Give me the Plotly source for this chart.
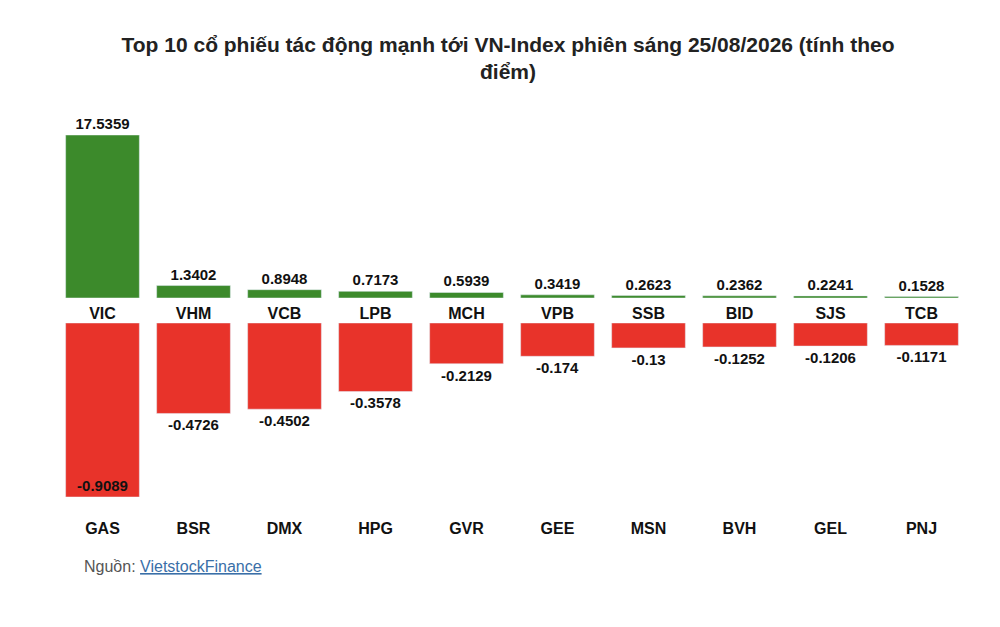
import plotly.graph_objects as go
from plotly.subplots import make_subplots

# top row: gainers
up_names = ["VIC", "VHM", "VCB", "LPB", "MCH", "VPB", "SSB", "BID", "SJS", "TCB"]
up_vals = [17.5359, 1.3402, 0.8948, 0.7173, 0.5939, 0.3419, 0.2623, 0.2362, 0.2241, 0.1528]

# bottom row: losers
down_names = ["GAS", "BSR", "DMX", "HPG", "GVR", "GEE", "MSN", "BVH", "GEL", "PNJ"]
down_vals = [-0.9089, -0.4726, -0.4502, -0.3578, -0.2129, -0.174, -0.13, -0.1252, -0.1206, -0.1171]

pos = list(range(len(up_names)))
lbl_font = dict(family="Liberation Sans, Arial", size=15, color="#111")

fig = make_subplots(rows=2, cols=1, vertical_spacing=0.0)

fig.add_trace(go.Bar(
    x=pos, y=up_vals, marker_color="#3c8a2b",
    text=[f"<b>{v}</b>" for v in up_vals], textposition="outside",
    textfont=lbl_font, cliponaxis=False,
), row=1, col=1)

fig.add_trace(go.Bar(
    x=pos, y=down_vals, marker_color="#e8332a",
    text=[f"<b>{v}</b>" for v in down_vals],
    textposition=["inside"] + ["outside"] * 9,
    insidetextanchor="end",
    textfont=lbl_font, cliponaxis=False,
), row=2, col=1)

# manual domains so the two rows get their own scale
fig.update_layout(
    yaxis=dict(domain=[0.5497, 1], range=[0, 17.5359], visible=False),
    yaxis2=dict(domain=[0, 0.4807], range=[-0.9089, 0], visible=False),
)
tick_font = dict(family="Liberation Sans, Arial", size=16, color="#111")
fig.update_xaxes(range=[-0.5, 9.5], showgrid=False, zeroline=False, showline=False, ticks="")
fig.update_xaxes(tickvals=pos, ticktext=[f"<b>{n}</b>" for n in up_names],
                 tickfont=tick_font, ticklabelstandoff=4, row=1, col=1)
fig.update_xaxes(tickvals=pos, ticktext=[f"<b>{n}</b>" for n in down_names],
                 tickfont=tick_font, ticklabelstandoff=20, row=2, col=1)

fig.update_layout(
    width=1000, height=627,
    margin=dict(l=49, r=41, t=127, b=138),
    bargap=0.19, showlegend=False,
    plot_bgcolor="white", paper_bgcolor="white",
    title=dict(
        text="<b>Top 10 cổ phiếu tác động mạnh tới VN-Index phiên sáng 25/08/2026 (tính theo<br>điểm)</b>",
        x=0.5, xanchor="center", y=0.93, yanchor="middle",
        font=dict(family="Liberation Sans, Arial", size=21, color="#222"),
    ),
    annotations=[dict(
        text="Nguồn: <span style='color:#3a6fa8'><u>VietstockFinance</u></span>",
        xref="paper", yref="paper", x=0.028, y=-0.193, xanchor="left", yanchor="middle",
        showarrow=False, font=dict(family="Liberation Sans, Arial", size=16, color="#555"),
    )],
)

fig.write_html("out.html")
